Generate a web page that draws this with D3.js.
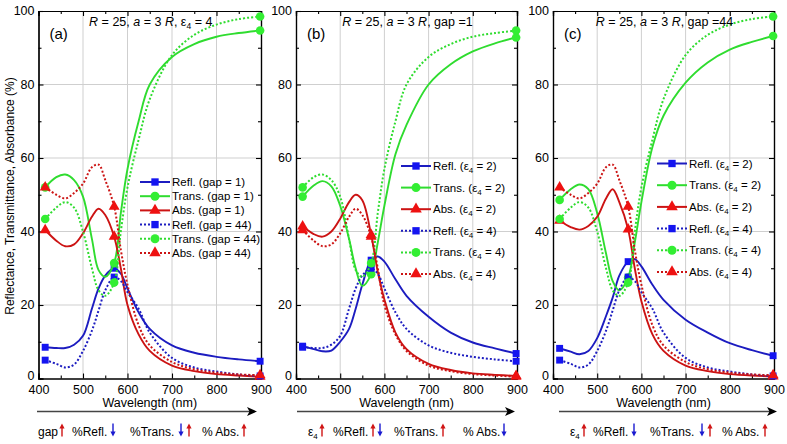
<!DOCTYPE html>
<html>
<head>
<meta charset="utf-8">
<script src="https://cdn.jsdelivr.net/npm/d3@7"></script>
<style>
  body { margin: 0; background: #fff; }
  svg { display: block; font-family: "Liberation Sans", Arial, sans-serif; }
</style>
</head>
<body>
<svg id="chart" width="787" height="444"></svg>
<script>
var wavelength = [415, 440, 460, 480, 500, 520, 535, 550, 570, 585, 600, 625, 650, 700, 750, 800, 850, 898];

// eps4 = 4, gap = 1
var reflGap1Eps4  = [8.5, 8.3, 8.3, 9.2, 11.6, 19, 24.5, 28, 30, 28.5, 24.5, 18, 13.5, 9, 7, 5.9, 5.2, 4.7];
var transGap1Eps4 = [52, 54.8, 55.5, 54, 49.5, 38, 29.5, 27.7, 31.4, 45, 57, 70, 80, 87.5, 91, 93, 94, 94.7];
var absGap1Eps4   = [40.4, 37.5, 36, 36.5, 39.5, 44, 46.2, 44.5, 38.6, 30, 20, 12, 7.5, 3.5, 2, 1.2, 0.8, 0.5];
// eps4 = 4, gap = 44
var reflGap44Eps4  = [5, 4, 3, 3.8, 7.5, 13, 18.5, 24, 27.6, 26.5, 23.5, 19, 12.5, 5.6, 3, 1.9, 1.1, 0.7];
var transGap44Eps4 = [43.4, 46.5, 48, 46.5, 40, 30, 24, 22.5, 26.1, 40, 52, 65, 76, 88, 93.5, 96.3, 97.8, 98.5];
var absGap44Eps4   = [52, 50, 49, 50.5, 53, 57.5, 58.2, 54, 46.8, 35, 25.5, 14.5, 9, 4.5, 2.5, 1.6, 1.1, 0.9];
// eps4 = 2, gap = 1
var reflGap1Eps2  = [8.8, 8, 7.4, 7.6, 10, 13.5, 19, 25.5, 32.2, 33.2, 31.8, 27, 22.5, 16.8, 12.5, 9.8, 8.2, 6.8];
var transGap1Eps2 = [49.5, 52.5, 53.7, 52.3, 47, 38, 30, 25.2, 28.4, 37, 47, 61, 69, 80, 85.5, 89, 91.2, 92.8];
var absGap1Eps2   = [41.4, 39.3, 38.6, 40, 43.5, 48, 50, 48.5, 39.1, 29, 21.5, 12.5, 8, 4, 2.3, 1.4, 1, 0.7];
// eps4 = 2, gap = 44
var reflGap44Eps2  = [8.2, 7.3, 6.6, 7.5, 11, 17, 22, 28, 31.8, 32.5, 30.5, 25.5, 21.4, 16, 12.5, 9.6, 7.7, 6.2];
var transGap44Eps2 = [48.6, 51.5, 52.8, 51.5, 45, 34, 26.5, 24, 27.5, 37, 48, 63, 71.5, 80.5, 86, 89.5, 91.6, 93.2];
var absGap44Eps2   = [43, 41.2, 40.5, 41.5, 44, 49, 51.5, 48, 40.6, 30, 21, 12, 7.5, 3.5, 2, 1.2, 0.8, 0.6];

var xTicks = [400, 500, 600, 700, 800, 900];
var xMinorTicks = [450, 550, 650, 750, 850];
var yTicks = [0, 20, 40, 60, 80, 100];
var yMinorTicks = [10, 30, 50, 70, 90];
var markerIndex = [0, 8, wavelength.length - 1];

var lineColor = { refl: "#1c1cc0", trans: "#2fdc2f", abs: "#cc1313" };
var markColor = { refl: "#1414f0", trans: "#33ee33", abs: "#ee1111" };
var symbols = { refl: d3.symbolSquare, trans: d3.symbolCircle, abs: d3.symbolTriangle };
var symbolSize = { refl: 48, trans: 58, abs: 52 };

var panels = [
  {
    tag: "(a)", left: 38.5, right: 261,
    title: [["R", 1], [" = 25, ", 0], ["a", 1], [" = 3 ", 0], ["R", 1], [", \u03b5", 0], ["4", 2], [" = 4", 0]],
    legend: { x: 140, y: 182, dy: 14.2 },
    series: [
      { name: ["Refl. (gap = 1)"], kind: "refl", values: reflGap1Eps4, dotted: false },
      { name: ["Trans. (gap = 1)"], kind: "trans", values: transGap1Eps4, dotted: false },
      { name: ["Abs. (gap = 1)"], kind: "abs", values: absGap1Eps4, dotted: false },
      { name: ["Refl. (gap = 44)"], kind: "refl", values: reflGap44Eps4, dotted: true },
      { name: ["Trans. (gap = 44)"], kind: "trans", values: transGap44Eps4, dotted: true },
      { name: ["Abs. (gap = 44)"], kind: "abs", values: absGap44Eps4, dotted: true }
    ],
    notes: [["gap", 38]],
    arrows: [[62, "up"], [113, "down"], [181, "down"], [189, "up"], [244, "up"]],
    words: [["%Refl.", 72], ["%Trans.", 130], ["% Abs.", 202]],
    baseLine: [37, 257]
  },
  {
    tag: "(b)", left: 296, right: 517,
    title: [["R", 1], [" = 25, ", 0], ["a", 1], [" = 3 ", 0], ["R", 1], [", gap =1", 0]],
    legend: { x: 401, y: 166, dy: 21.6 },
    series: [
      { name: ["Refl. (\u03b5", "4", " = 2)"], kind: "refl", values: reflGap1Eps2, dotted: false },
      { name: ["Trans. (\u03b5", "4", " = 2)"], kind: "trans", values: transGap1Eps2, dotted: false },
      { name: ["Abs. (\u03b5", "4", " = 2)"], kind: "abs", values: absGap1Eps2, dotted: false },
      { name: ["Refl. (\u03b5", "4", " = 4)"], kind: "refl", values: reflGap1Eps4, dotted: true },
      { name: ["Trans. (\u03b5", "4", " = 4)"], kind: "trans", values: transGap1Eps4, dotted: true },
      { name: ["Abs. (\u03b5", "4", " = 4)"], kind: "abs", values: absGap1Eps4, dotted: true }
    ],
    notes: [["eps", 308]],
    arrows: [[322, "up"], [373, "up"], [380, "down"], [443, "up"], [504, "down"]],
    words: [["%Refl.", 333], ["%Trans.", 394], ["% Abs.", 463]],
    baseLine: [297, 515]
  },
  {
    tag: "(c)", left: 553, right: 774,
    title: [["R", 1], [" = 25, ", 0], ["a", 1], [" = 3 ", 0], ["R", 1], [", gap =44", 0]],
    legend: { x: 657, y: 163.5, dy: 21.7 },
    series: [
      { name: ["Refl. (\u03b5", "4", " = 2)"], kind: "refl", values: reflGap44Eps2, dotted: false },
      { name: ["Trans. (\u03b5", "4", " = 2)"], kind: "trans", values: transGap44Eps2, dotted: false },
      { name: ["Abs. (\u03b5", "4", " = 2)"], kind: "abs", values: absGap44Eps2, dotted: false },
      { name: ["Refl. (\u03b5", "4", " = 4)"], kind: "refl", values: reflGap44Eps4, dotted: true },
      { name: ["Trans. (\u03b5", "4", " = 4)"], kind: "trans", values: transGap44Eps4, dotted: true },
      { name: ["Abs. (\u03b5", "4", " = 4)"], kind: "abs", values: absGap44Eps4, dotted: true }
    ],
    notes: [["eps", 570]],
    arrows: [[584, "up"], [634, "down"], [702, "down"], [710, "up"], [765, "up"]],
    words: [["%Refl.", 593], ["%Trans.", 650], ["% Abs.", 722]],
    baseLine: [559, 777]
  }
];

var svg = d3.select("#chart");
var y = d3.scaleLinear().domain([0, 100]).range([378.5, 11]);

// y axis title
svg.append("text")
    .attr("transform", "translate(14,196) rotate(-90)")
    .attr("text-anchor", "middle")
    .style("font-size", "12px")
    .text("Reflectance, Transmittance, Absorbance (%)");

panels.forEach(function(p) {
  var x = d3.scaleLinear().domain([400, 900]).range([p.left, p.right]);
  var g = svg.append("g");

  // grid
  g.selectAll(".gx").data(xTicks.slice(1, -1)).enter().append("line")
      .attr("x1", function(d) { return x(d); }).attr("x2", function(d) { return x(d); })
      .attr("y1", y(0)).attr("y2", y(100))
      .attr("stroke", "#cfcfcf").attr("stroke-width", 1);
  g.selectAll(".gy").data(yTicks.slice(1, -1)).enter().append("line")
      .attr("x1", x(400)).attr("x2", x(900))
      .attr("y1", function(d) { return y(d); }).attr("y2", function(d) { return y(d); })
      .attr("stroke", "#cfcfcf").attr("stroke-width", 1);

  // axes, ticks inside
  function axis(gen, scale, vals, size, tr, labels, pad) {
    var a = gen(scale).tickValues(vals).tickSize(-size).tickPadding(pad || 4);
    if (!labels) a.tickFormat("");
    var ax = g.append("g").attr("transform", tr).call(a);
    ax.select(".domain").attr("stroke", "#000").attr("stroke-width", 1.2);
    ax.selectAll(".tick line").attr("stroke", "#000").attr("stroke-width", 1.1);
    ax.selectAll("text").style("font-size", "12.5px").attr("fill", "#000");
    return ax;
  }
  axis(d3.axisBottom, x, xTicks, 5, "translate(0," + y(0) + ")", true, 7);
  axis(d3.axisBottom, x, xMinorTicks, 3, "translate(0," + y(0) + ")", false);
  axis(d3.axisTop, x, xTicks, 5, "translate(0," + y(100) + ")", false);
  axis(d3.axisTop, x, xMinorTicks, 3, "translate(0," + y(100) + ")", false);
  var yl = axis(d3.axisLeft, y, yTicks, 5, "translate(" + x(400) + ",0)", true, 4);
  yl.selectAll("text").attr("dy", function(d) { return d === 0 ? "0.1em" : "0.3em"; });
  axis(d3.axisLeft, y, yMinorTicks, 3, "translate(" + x(400) + ",0)", false);
  axis(d3.axisRight, y, yTicks, 5, "translate(" + x(900) + ",0)", false);
  axis(d3.axisRight, y, yMinorTicks, 3, "translate(" + x(900) + ",0)", false);

  g.append("text")
      .attr("x", (x(400) + x(900)) / 2).attr("y", 407)
      .attr("text-anchor", "middle")
      .style("font-size", "12.5px")
      .text("Wavelength (nm)");

  // curves
  var line = d3.line()
      .x(function(d, i) { return x(wavelength[i]); })
      .y(function(d) { return y(d); })
      .curve(d3.curveCatmullRom.alpha(0.5));

  p.series.forEach(function(s) {
    g.append("path")
        .attr("d", line(s.values))
        .attr("fill", "none")
        .attr("stroke", lineColor[s.kind])
        .attr("stroke-width", s.dotted ? 2 : 1.9)
        .attr("stroke-dasharray", s.dotted ? "2,2" : null);
    g.selectAll(null).data(markerIndex).enter().append("path")
        .attr("d", d3.symbol().type(symbols[s.kind]).size(symbolSize[s.kind]))
        .attr("transform", function(i) {
          return "translate(" + x(wavelength[i]) + "," + y(s.values[i]) + ")";
        })
        .attr("fill", markColor[s.kind]);
  });

  // legend
  p.series.forEach(function(s, i) {
    var ly = p.legend.y + i * p.legend.dy;
    var lx = p.legend.x;
    g.append("line")
        .attr("x1", lx).attr("x2", lx + 30).attr("y1", ly).attr("y2", ly)
        .attr("stroke", lineColor[s.kind]).attr("stroke-width", 2)
        .attr("stroke-dasharray", s.dotted ? "2,2" : null);
    g.append("path")
        .attr("d", d3.symbol().type(symbols[s.kind]).size(symbolSize[s.kind] + 6))
        .attr("transform", "translate(" + (lx + 15) + "," + ly + ")")
        .attr("fill", markColor[s.kind]);
    var t = g.append("text")
        .attr("x", lx + 32).attr("y", ly + 4)
        .style("font-size", "11.5px");
    t.append("tspan").text(s.name[0]);
    if (s.name.length > 1) {
      t.append("tspan").attr("dy", 3).style("font-size", "8px").text(s.name[1]);
      t.append("tspan").attr("dy", -3).text(s.name[2]);
    }
  });

  // title and tag
  var tt = g.append("text")
      .attr("x", (x(400) + x(900)) / 2 + 1).attr("y", 26)
      .attr("text-anchor", "middle")
      .style("font-size", "12.5px");
  var shift = 0;
  p.title.forEach(function(part) {
    var sp = tt.append("tspan").text(part[0]);
    if (part[1] === 1) sp.style("font-style", "italic");
    if (part[1] === 2) { sp.attr("dy", 3).style("font-size", "8.5px"); shift = 3; }
    else if (shift) { sp.attr("dy", -shift); shift = 0; }
  });
  g.append("text")
      .attr("x", x(400) + 11).attr("y", 39)
      .style("font-size", "15px")
      .text(p.tag);

  // bottom trend annotation
  var by = 411.5;
  g.append("line")
      .attr("x1", p.baseLine[0]).attr("x2", p.baseLine[1] - 6)
      .attr("y1", by).attr("y2", by)
      .attr("stroke", "#444").attr("stroke-width", 1.3);
  g.append("path")
      .attr("d", "M" + p.baseLine[1] + "," + by + "l-10,-4.5l2.5,4.5l-2.5,4.5z")
      .attr("fill", "#000");

  p.words.forEach(function(w) {
    g.append("text").attr("x", w[1]).attr("y", 436)
        .style("font-size", "12px").text(w[0]);
  });
  p.notes.forEach(function(n) {
    var t = g.append("text").attr("x", n[1]).attr("y", 436).style("font-size", "12px");
    if (n[0] === "eps") {
      t.append("tspan").text("\u03b5");
      t.append("tspan").attr("dy", 3).style("font-size", "8px").text("4");
    } else {
      t.text(n[0]);
    }
  });
  p.arrows.forEach(function(a) {
    var up = a[1] === "up";
    var col = up ? "#d01515" : "#1a1ad0";
    var top = 423.5, bot = 436.5;
    g.append("line")
        .attr("x1", a[0]).attr("x2", a[0])
        .attr("y1", up ? bot : top).attr("y2", up ? top + 4 : bot - 4)
        .attr("stroke", col).attr("stroke-width", 1.4);
    var tip = up ? top : bot, d = up ? 5 : -5;
    g.append("path")
        .attr("d", "M" + a[0] + "," + tip + "l-2.6," + d + "l5.2,0z")
        .attr("fill", col);
  });
});
</script>
</body>
</html>
